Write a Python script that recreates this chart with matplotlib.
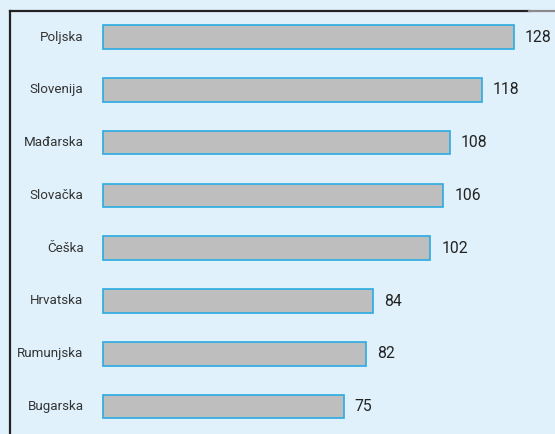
import matplotlib.pyplot as plt
from matplotlib.lines import Line2D

countries = ["Poljska", "Slovenija", "Mađarska", "Slovačka", "Češka", "Hrvatska", "Rumunjska", "Bugarska"]
values = [128, 118, 108, 106, 102, 84, 82, 75]

plt.rcParams['font.family'] = ['Roboto', 'DejaVu Sans']

bg = '#e0f1fb'
fig = plt.figure(figsize=(5.55, 4.34), dpi=100, facecolor=bg)
ax = fig.add_axes([0, 0, 1, 1])
ax.set_facecolor(bg)

# pixel layout: bars start at x=103px, 3.21 px per unit; rows 52.8px apart, first at y=37px
px_unit = 3.21
ax.set_xlim(-103 / px_unit, (555 - 103) / px_unit)
ax.set_ylim((434 - 37) / 52.8, -37 / 52.8)

pos = list(range(len(countries)))
ax.barh(pos, values, height=0.45, color='#bebebe', edgecolor='#29abe2', linewidth=1.2)

for i, (name, v) in enumerate(zip(countries, values)):
    ax.annotate(name, xy=(0, i), xytext=(-14, 0), textcoords='offset points',
                ha='right', va='center', fontsize=9.6, color='#333333')
    ax.annotate(str(v), xy=(v, i), xytext=(8, 0), textcoords='offset points',
                ha='left', va='center', fontsize=11.3, color='#222222')

ax.axis('off')

# frame lines (left and top)
fig.add_artist(Line2D([10 / 555, 10 / 555], [0, 1 - 11 / 434], transform=fig.transFigure,
                      color='#222222', linewidth=1.6))
fig.add_artist(Line2D([10 / 555, 529 / 555], [1 - 11 / 434, 1 - 11 / 434], transform=fig.transFigure,
                      color='#222222', linewidth=1.6))
fig.add_artist(Line2D([529 / 555, 1], [1 - 11 / 434, 1 - 11 / 434], transform=fig.transFigure,
                      color='#8a8a8a', linewidth=1.6))

fig.savefig('out.png', dpi=100, facecolor=bg)
